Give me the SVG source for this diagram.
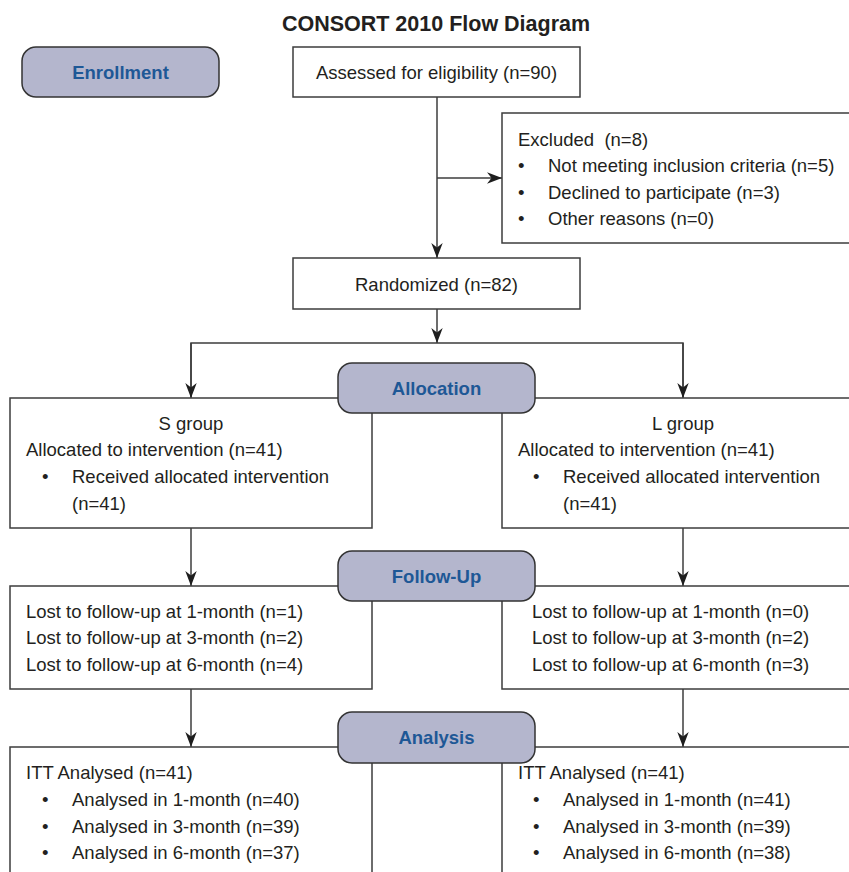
<svg xmlns="http://www.w3.org/2000/svg" width="849" height="872" viewBox="0 0 849 872">
<style>
text{font-family:"Liberation Sans",Arial,Helvetica,sans-serif;font-size:18.5px;fill:#231f20}
.title{font-weight:bold;font-size:21.5px}
.lab{font-weight:bold;font-size:18.5px;fill:#1e5896}
.pre{white-space:pre}
.box{fill:#ffffff;stroke:#3d3d3d;stroke-width:1.5}
.stage{fill:#b4b6cd;stroke:#333333;stroke-width:1.5}
.ln{fill:none;stroke:#3d3d3d;stroke-width:1.5}
.arr{marker-end:url(#ah)}
</style>
<defs>
<marker id="ah" markerUnits="userSpaceOnUse" markerWidth="15" markerHeight="12" refX="15" refY="6" orient="auto">
<path d="M0,0.3 L15,6 L0,11.7 L4.5,6 Z" fill="#1e1e1e"/>
</marker>
</defs>
<rect width="849" height="872" fill="#ffffff"/>
<text class="title" x="436" y="31" text-anchor="middle">CONSORT 2010 Flow Diagram</text>

<g id="connectors">
<line class="ln arr" x1="437" y1="97" x2="437" y2="258"/>
<line class="ln arr" x1="437" y1="178" x2="502" y2="178"/>
<line class="ln arr" x1="437" y1="309" x2="437" y2="343"/>
<polyline class="ln" points="191,397 191,343 683,343 683,397"/>
<line class="ln arr" x1="191" y1="343" x2="191" y2="398"/>
<line class="ln arr" x1="683" y1="343" x2="683" y2="398"/>
<line class="ln arr" x1="191" y1="528" x2="191" y2="586"/>
<line class="ln arr" x1="683" y1="528" x2="683" y2="586"/>
<line class="ln arr" x1="191" y1="689" x2="191" y2="747"/>
<line class="ln arr" x1="683" y1="689" x2="683" y2="747"/>
</g>

<g id="assessed">
<rect class="box" x="293" y="47" width="287" height="50"/>
<text x="436.5" y="79" text-anchor="middle">Assessed for eligibility (n=90)</text>
</g>
<g id="excluded">
<rect class="box" x="502" y="113" width="360" height="130"/>
<text class="pre" x="518" y="145.5" xml:space="preserve">Excluded  (n=8)</text>
<text x="518" y="172">•</text><text x="548" y="172">Not meeting inclusion criteria (n=5)</text>
<text x="518" y="198.5">•</text><text x="548" y="198.5">Declined to participate (n=3)</text>
<text x="518" y="225">•</text><text x="548" y="225">Other reasons (n=0)</text>
</g>
<g id="randomized">
<rect class="box" x="293" y="258" width="287" height="51"/>
<text x="436.5" y="290.5" text-anchor="middle">Randomized (n=82)</text>
</g>

<g id="s-alloc">
<rect class="box" x="10" y="398" width="362" height="130"/>
<text x="191" y="430" text-anchor="middle">S group</text>
<text x="26" y="456">Allocated to intervention (n=41)</text>
<text x="42" y="483">•</text><text x="72" y="483">Received allocated intervention</text>
<text x="72" y="510">(n=41)</text>
</g>
<g id="l-alloc">
<rect class="box" x="502" y="398" width="360" height="130"/>
<text x="683" y="430" text-anchor="middle">L group</text>
<text x="518" y="456">Allocated to intervention (n=41)</text>
<text x="533" y="483">•</text><text x="563" y="483">Received allocated intervention</text>
<text x="563" y="510">(n=41)</text>
</g>

<g id="s-follow">
<rect class="box" x="10" y="586" width="362" height="103"/>
<text x="26" y="617.5">Lost to follow-up at 1-month (n=1)</text>
<text x="26" y="644">Lost to follow-up at 3-month (n=2)</text>
<text x="26" y="670.5">Lost to follow-up at 6-month (n=4)</text>
</g>
<g id="l-follow">
<rect class="box" x="502" y="586" width="360" height="103"/>
<text x="532" y="617.5">Lost to follow-up at 1-month (n=0)</text>
<text x="532" y="644">Lost to follow-up at 3-month (n=2)</text>
<text x="532" y="670.5">Lost to follow-up at 6-month (n=3)</text>
</g>

<g id="s-analysis">
<rect class="box" x="10" y="747" width="362" height="140"/>
<text x="26" y="779">ITT Analysed (n=41)</text>
<text x="42" y="806">•</text><text x="72" y="806">Analysed in 1-month (n=40)</text>
<text x="42" y="832.5">•</text><text x="72" y="832.5">Analysed in 3-month (n=39)</text>
<text x="42" y="858.5">•</text><text x="72" y="858.5">Analysed in 6-month (n=37)</text>
</g>
<g id="l-analysis">
<rect class="box" x="502" y="747" width="360" height="140"/>
<text x="518" y="779">ITT Analysed (n=41)</text>
<text x="533" y="806">•</text><text x="563" y="806">Analysed in 1-month (n=41)</text>
<text x="533" y="832.5">•</text><text x="563" y="832.5">Analysed in 3-month (n=39)</text>
<text x="533" y="858.5">•</text><text x="563" y="858.5">Analysed in 6-month (n=38)</text>
</g>

<g id="enrollment">
<rect class="stage" x="22" y="47" width="197" height="50" rx="14"/>
<text class="lab" x="120.5" y="79" text-anchor="middle">Enrollment</text>
</g>
<g id="allocation">
<rect class="stage" x="338" y="363" width="197" height="50" rx="14"/>
<text class="lab" x="436.5" y="395" text-anchor="middle">Allocation</text>
</g>
<g id="follow-up">
<rect class="stage" x="338" y="551" width="197" height="50" rx="14"/>
<text class="lab" x="436.5" y="583" text-anchor="middle">Follow-Up</text>
</g>
<g id="analysis">
<rect class="stage" x="338" y="712" width="197" height="51" rx="14"/>
<text class="lab" x="436.5" y="744" text-anchor="middle">Analysis</text>
</g>
</svg>
